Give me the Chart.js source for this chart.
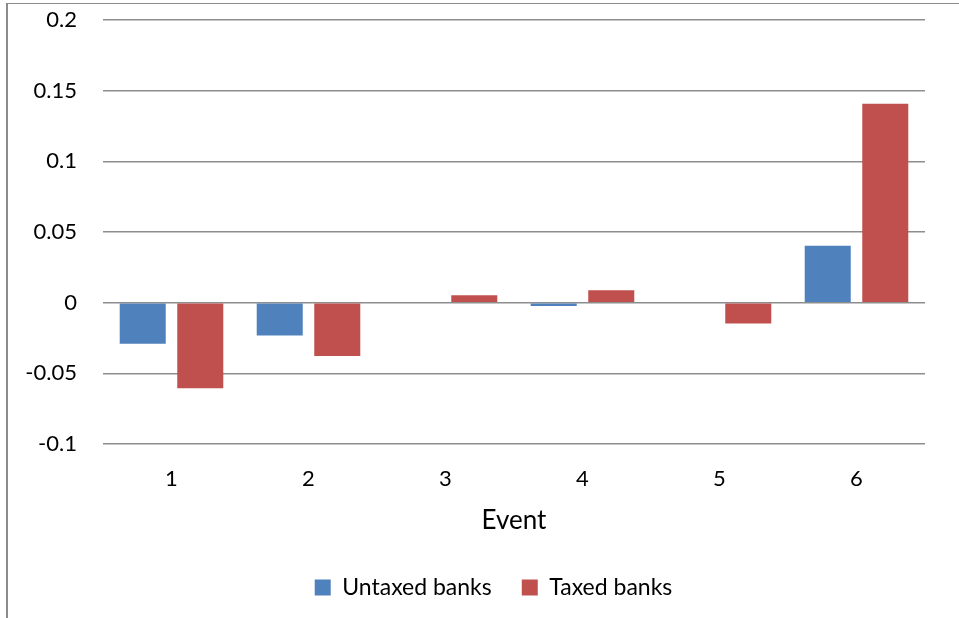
<!DOCTYPE html>
<html>
<head>
<meta charset="utf-8">
<script src="https://cdn.jsdelivr.net/npm/chart.js@4.4.1/dist/chart.umd.min.js"></script>
<style>
  html, body { margin: 0; padding: 0; background: #ffffff; }
  #wrap { position: relative; width: 959px; height: 618px; overflow: hidden; }
  #frame { position: absolute; left: 6px; top: 3px; width: 960px; height: 620px;
           border-left: 2px solid #8c8c8c; border-top: 1px solid #8c8c8c; box-sizing: border-box; }
  canvas { position: absolute; left: 0; top: 0; }
</style>
</head>
<body>
<div id="wrap">
  <div id="frame"></div>
  <canvas id="chart" width="959" height="618"></canvas>
</div>
<script>
// Abnormal response per announcement event, split by bank group
const events = ['1', '2', '3', '4', '5', '6'];
const untaxedBanks = [-0.029, -0.0233, 0, -0.0023, 0, 0.0403];
const taxedBanks = [-0.0606, -0.0377, 0.0052, 0.0087, -0.0148, 0.1407];
const yTicks = [-0.1, -0.05, 0, 0.05, 0.1, 0.15, 0.2];

const FONT = 'Lato, "Open Sans", sans-serif';
const GRID = '#8d8d8d';

// Nudge the legend block to the right so it sits under the plot body
const legendShift = {
  id: 'legendShift',
  afterLayout(chart, args, opts) {
    const lg = chart.legend;
    if (lg) { lg.left += opts.dx; lg.right += opts.dx; }
  }
};

new Chart(document.getElementById('chart'), {
  type: 'bar',
  data: {
    labels: events,
    datasets: [
      { label: 'Untaxed banks', data: untaxedBanks, backgroundColor: '#4F81BD',
        categoryPercentage: 0.84, barPercentage: 0.8 },
      { label: 'Taxed banks', data: taxedBanks, backgroundColor: '#C0504D',
        categoryPercentage: 0.84, barPercentage: 0.8 }
    ]
  },
  plugins: [legendShift],
  options: {
    responsive: false,
    animation: false,
    devicePixelRatio: 1,
    layout: { padding: { left: 0, right: 34, top: 20, bottom: 9 } },
    plugins: {
      tooltip: { enabled: false },
      legendShift: { dx: 31 },
      legend: {
        position: 'bottom',
        labels: {
          boxWidth: 16, boxHeight: 16, padding: 30,
          color: '#000000', font: { family: FONT, size: 23 }
        }
      }
    },
    scales: {
      x: {
        grid: { display: false, drawTicks: false },
        border: { display: false },
        ticks: { color: '#000000', font: { family: FONT, size: 22 }, padding: 22 },
        title: { display: true, text: 'Event', color: '#000000',
                 font: { family: FONT, size: 26 }, padding: { top: 0, bottom: 10 } },
        afterFit: (s) => { s.height = 102; }
      },
      y: {
        min: -0.1, max: 0.2,
        afterBuildTicks: (s) => { s.ticks = yTicks.map(v => ({ value: v })); },
        grid: { color: GRID, lineWidth: 1.5, drawTicks: false },
        border: { display: false },
        ticks: {
          color: '#000000', font: { family: FONT, size: 22 }, padding: 26,
          callback: (v) => String(Math.round(v * 100) / 100)
        },
        afterFit: (s) => { s.width = 103; s.paddingTop = 12; s.paddingBottom = 12; }
      }
    }
  }
});
</script>
</body>
</html>
